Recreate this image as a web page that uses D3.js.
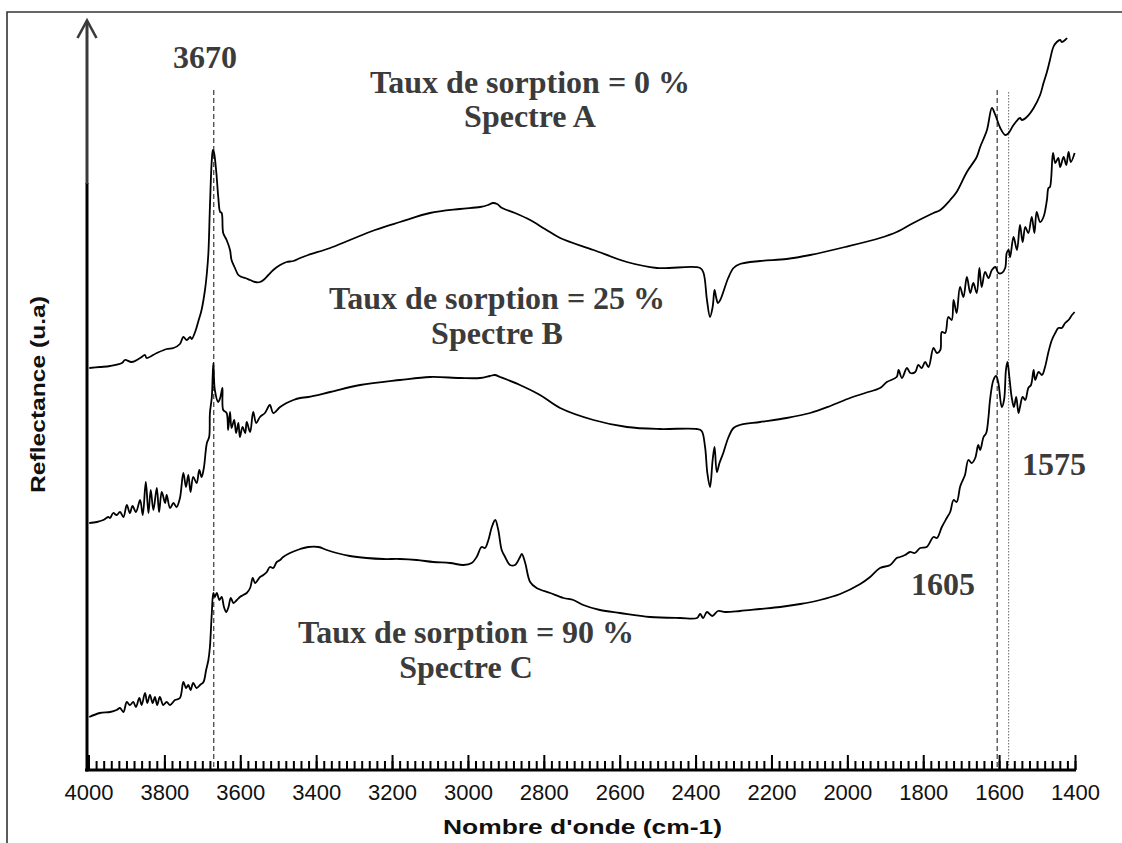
<!DOCTYPE html>
<html>
<head>
<meta charset="utf-8">
<script src="https://cdn.jsdelivr.net/npm/d3@7"></script>
<style>
  html, body { margin: 0; padding: 0; background: #fff; }
  svg { display: block; }
</style>
</head>
<body>
<svg id="chart" width="1122" height="843"></svg>
<script>
// Wavenumber (cm-1) and reflectance (arbitrary units) for the three spectra
const wnA = [3998,3970,3943,3912,3904,3886,3864,3851,3847,3820,3794,3776,3759,3750,3741,3732,3728,3719,3711,3702,3693,3688,3684,3680,3675,3672,3669,3663,3658,3653,3649,3645,3636,3627,3623,3614,3605,3596,3587,3574,3561,3548,3539,3526,3513,3495,3478,3460,3442,3421,3363,3311,3245,3179,3100,3021,2968,2947,2934,2923,2910,2876,2836,2797,2757,2669,2581,2502,2388,2379,2370,2362,2355,2350,2346,2341,2335,2327,2314,2300,2283,2230,2160,2098,2006,1914,1870,1826,1773,1755,1729,1712,1685,1659,1650,1632,1619,1610,1597,1584,1575,1562,1545,1540,1527,1509,1492,1483,1474,1466,1457,1448,1439,1435,1426,1421];
const valA = [40.2,40.3,40.4,40.7,41.0,40.8,41.2,41.5,41.2,41.7,42.1,42.2,42.6,43.3,43.0,43.3,43.1,43.8,44.8,46.0,48.0,49.7,51.7,56.3,61.0,62.0,61.7,59.7,57.3,55.8,55.7,53.7,53.0,52.0,51.0,50.2,49.5,49.3,49.2,49.0,48.8,48.8,49.0,49.5,50.0,50.5,50.8,50.9,51.2,51.5,52.2,53.0,54.0,54.8,55.7,56.1,56.3,56.5,56.7,56.6,56.2,55.7,55.0,54.1,53.2,52.0,50.8,50.2,50.2,49.7,47.0,45.3,46.3,48.0,47.3,46.7,47.0,47.8,49.2,50.2,50.6,50.9,51.1,51.5,52.3,53.2,53.8,54.7,55.7,56.0,57.0,57.8,59.8,61.3,62.3,64.0,66.2,65.5,64.2,63.5,63.7,64.5,65.2,65.0,65.3,66.2,67.5,68.7,69.8,71.0,72.3,72.8,73.0,72.8,73.0,73.2];

const wnB = [3998,3978,3961,3948,3943,3935,3926,3917,3908,3899,3891,3884,3875,3864,3857,3849,3842,3836,3829,3820,3814,3807,3798,3794,3785,3776,3768,3759,3750,3743,3737,3731,3724,3715,3708,3702,3696,3688,3682,3680,3675,3671,3667,3658,3653,3647,3645,3636,3632,3627,3623,3616,3611,3605,3601,3594,3587,3583,3574,3566,3558,3548,3535,3522,3513,3495,3478,3460,3442,3421,3363,3284,3179,3100,3021,2968,2942,2929,2915,2863,2810,2757,2669,2581,2494,2397,2384,2375,2369,2362,2355,2350,2344,2337,2327,2314,2300,2283,2230,2160,2098,2045,1993,1953,1914,1896,1870,1865,1856,1843,1834,1821,1813,1804,1795,1786,1773,1764,1755,1751,1742,1734,1725,1720,1712,1703,1694,1685,1676,1668,1659,1652,1646,1637,1628,1619,1610,1602,1593,1584,1580,1575,1571,1562,1553,1545,1538,1531,1523,1514,1507,1501,1492,1483,1474,1470,1466,1458,1452,1444,1439,1430,1423,1417,1411,1401];
const valB = [24.7,24.8,25.0,25.3,25.2,25.7,25.5,25.8,25.3,26.5,25.7,26.4,25.8,27.0,25.5,28.8,25.7,28.0,26.0,28.2,25.8,27.8,26.7,27.5,26.2,26.7,26.3,27.2,29.7,28.3,29.5,27.8,29.3,28.7,30.0,29.3,30.2,32.7,33.3,35.7,37.3,40.7,38.0,36.8,37.2,38.2,36.0,35.7,34.0,35.8,34.2,35.0,33.7,34.7,33.3,34.3,33.7,34.8,33.8,35.8,34.7,35.3,35.7,36.5,35.7,36.3,36.7,37.0,37.2,37.3,37.8,38.5,39.0,39.3,39.2,39.2,39.4,39.5,39.3,38.5,37.5,36.2,35.0,34.3,34.1,34.1,33.9,32.3,29.7,28.3,31.0,32.3,29.8,30.7,31.7,33.2,34.2,34.5,34.8,35.2,35.7,36.4,37.2,37.7,38.2,38.8,39.3,40.0,39.2,40.2,39.7,39.8,40.5,40.2,40.8,40.3,42.2,41.7,42.0,43.8,43.7,45.3,45.0,47.0,45.7,48.3,47.3,49.3,47.7,48.7,47.7,50.2,48.3,49.8,49.2,50.0,50.3,49.7,49.7,50.2,51.7,52.0,51.3,53.3,52.0,54.5,52.8,54.3,53.7,55.3,53.7,55.8,54.8,55.3,57.0,58.2,58.3,61.7,60.7,61.2,60.3,61.3,60.5,61.8,60.8,61.7];

const wnC = [3998,3970,3943,3926,3917,3908,3899,3891,3882,3875,3866,3860,3851,3845,3838,3831,3825,3819,3812,3803,3794,3785,3772,3759,3750,3743,3737,3731,3724,3715,3706,3697,3690,3684,3680,3675,3671,3667,3662,3655,3649,3643,3637,3631,3625,3618,3609,3601,3592,3583,3574,3567,3561,3548,3539,3530,3522,3513,3504,3495,3487,3469,3442,3421,3394,3372,3346,3311,3267,3223,3179,3135,3091,3047,3012,2990,2977,2964,2955,2946,2937,2928,2920,2911,2902,2889,2876,2864,2858,2849,2836,2819,2783,2748,2722,2696,2652,2599,2520,2441,2396,2388,2380,2370,2356,2341,2322,2283,2230,2177,2124,2072,2019,1966,1940,1914,1887,1870,1861,1848,1835,1822,1808,1791,1773,1764,1751,1738,1729,1720,1712,1703,1698,1690,1681,1672,1663,1655,1650,1641,1634,1628,1624,1615,1608,1602,1593,1587,1582,1578,1573,1567,1561,1555,1549,1545,1538,1531,1523,1516,1509,1505,1496,1487,1479,1470,1461,1452,1444,1435,1426,1417,1408,1401];
const valC = [5.3,5.7,5.8,6.0,6.2,5.8,6.8,6.5,6.8,6.3,7.2,6.5,7.7,6.7,7.5,6.7,7.3,6.5,7.3,6.5,6.8,6.5,7.0,7.2,8.8,8.2,8.5,8.0,8.7,8.2,8.5,8.8,10.0,11.0,12.3,15.7,17.7,17.3,17.7,17.0,17.3,16.3,15.8,16.3,17.2,16.7,17.0,17.3,17.5,17.7,18.2,19.2,18.7,19.3,19.5,19.8,20.3,20.2,20.8,21.0,21.3,21.7,22.1,22.3,22.3,22.0,21.7,21.4,21.2,21.1,21.1,21.0,20.8,20.7,20.5,20.7,21.3,22.3,22.2,23.0,24.3,25.0,24.0,22.0,21.3,20.5,20.5,21.2,21.6,20.7,18.8,18.2,17.7,17.2,17.0,16.5,16.0,15.7,15.3,15.2,15.2,15.6,15.2,15.8,15.4,15.9,15.8,15.9,16.1,16.3,16.6,17.0,17.6,18.6,19.3,20.2,20.5,21.2,21.3,21.5,21.8,21.7,22.2,22.3,23.3,23.2,24.3,25.2,25.8,27.0,26.8,28.3,28.8,29.5,31.0,30.7,31.2,32.5,32.0,33.3,33.7,35.3,37.0,39.0,39.4,38.7,36.3,37.0,40.0,40.8,39.3,37.3,36.3,37.3,35.7,36.3,37.3,37.0,38.2,38.5,40.0,39.0,39.8,39.5,40.3,41.8,43.0,43.7,44.2,44.2,44.7,45.0,45.5,45.8];

// Axis ticks
const majorTicks = [4000,3800,3600,3400,3200,3000,2800,2600,2400,2200,2000,1800,1600,1400];
const minorTicks = d3.range(4000, 1399, -20);

// Marked bands
const bands = [
  { wn: 3670, label: "3670", style: "dash" },
  { wn: 1605, label: "1605", style: "dash" },
  { wn: 1575, label: "1575", style: "dot" }
];

const spectrumLabels = [
  { title: "Taux de sorption = 0 %",  name: "Spectre A" },
  { title: "Taux de sorption = 25 %", name: "Spectre B" },
  { title: "Taux de sorption = 90 %", name: "Spectre C" }
];

const svg = d3.select("#chart");
const x = d3.scaleLinear().domain([4000, 1400]).range([88.5, 1075]);
const y = d3.scaleLinear().domain([0, 75]).range([770, 20]);

// outer frame (top and left edges visible)
svg.append("path")
  .attr("d", "M7,843 L7,12 L1122,12")
  .attr("fill", "none").attr("stroke", "#333").attr("stroke-width", 1.6);

// vertical reference lines
const refTop = { "3670": 68, "1605": 68, "1575": 67.8 };
bands.forEach(b => {
  svg.append("line")
    .attr("x1", x(b.wn)).attr("x2", x(b.wn))
    .attr("y1", y(refTop[b.label])).attr("y2", y(0.3))
    .attr("stroke", b.style === "dash" ? "#555" : "#777")
    .attr("stroke-width", b.style === "dash" ? 1.4 : 1.1)
    .attr("stroke-dasharray", b.style === "dash" ? "5,3" : "1.5,1.5");
});

// spectra
const line = d3.line()
  .x(d => x(d[0])).y(d => y(d[1]))
  .curve(d3.curveCatmullRom.alpha(0.5));
[[wnA, valA], [wnB, valB], [wnC, valC]].forEach(([w, v]) => {
  svg.append("path")
    .datum(w.map((d, i) => [d, v[i]]))
    .attr("d", line)
    .attr("fill", "none")
    .attr("stroke", "#000")
    .attr("stroke-width", 1.8)
    .attr("stroke-linejoin", "round");
});

// x axis: minor ticks, then major ticks with labels
const gMinor = svg.append("g").attr("transform", "translate(0,770)")
  .call(d3.axisBottom(x).tickValues(minorTicks).tickSize(-9).tickFormat(""));
const gMajor = svg.append("g").attr("transform", "translate(0,770)")
  .call(d3.axisBottom(x).tickValues(majorTicks).tickSize(-15).tickPadding(14).tickFormat(d3.format("d")));
[gMinor, gMajor].forEach(g => {
  g.select(".domain").remove();
  g.selectAll(".tick line").attr("stroke", "#000").attr("stroke-width", 2);
});
gMajor.selectAll(".tick text")
  .attr("font-family", "'Liberation Sans', Arial, sans-serif")
  .attr("font-size", 22).attr("fill", "#111");
svg.append("line")
  .attr("x1", 85).attr("x2", x(1400) + 1)
  .attr("y1", 770).attr("y2", 770)
  .attr("stroke", "#000").attr("stroke-width", 3.2);

// y axis with arrow
svg.append("line").attr("x1", 87).attr("x2", 87).attr("y1", 771.5).attr("y2", 183)
  .attr("stroke", "#000").attr("stroke-width", 3);
svg.append("line").attr("x1", 87).attr("x2", 87).attr("y1", 184).attr("y2", 21)
  .attr("stroke", "#3a3a3a").attr("stroke-width", 3);
svg.append("path").attr("d", "M77.5,38 L87,20.5 L96.5,38")
  .attr("fill", "none").attr("stroke", "#3a3a3a").attr("stroke-width", 2.6)
  .attr("stroke-linejoin", "miter");

// axis titles (wide bold sans)
svg.append("text")
  .attr("x", 443).attr("y", 834)
  .attr("font-family", "'Liberation Sans', Arial, sans-serif")
  .attr("font-weight", "bold").attr("font-size", 21).attr("fill", "#111")
  .attr("textLength", 279).attr("lengthAdjust", "spacingAndGlyphs")
  .text("Nombre d'onde (cm-1)");
svg.append("text")
  .attr("transform", "translate(45,493) rotate(-90)")
  .attr("font-family", "'Liberation Sans', Arial, sans-serif")
  .attr("font-weight", "bold").attr("font-size", 21).attr("fill", "#111")
  .attr("textLength", 197).attr("lengthAdjust", "spacingAndGlyphs")
  .text("Reflectance (u.a)");

// annotations
const serif = "'Liberation Serif', 'Times New Roman', serif";
const ann = svg.append("g")
  .attr("font-family", serif).attr("font-weight", "bold")
  .attr("font-size", 32).attr("fill", "#3b3b3b").attr("text-anchor", "middle");

const bandLabelPos = { "3670": [205, 68], "1605": [943, 595], "1575": [1054, 475] };
bands.forEach(b => {
  ann.append("text").attr("x", bandLabelPos[b.label][0]).attr("y", bandLabelPos[b.label][1]).text(b.label);
});

const spectrumLabelPos = [[530, 93, 127], [497, 309, 344], [466, 643, 678]];
spectrumLabels.forEach((s, i) => {
  const p = spectrumLabelPos[i];
  ann.append("text").attr("x", p[0]).attr("y", p[1]).text(s.title);
  ann.append("text").attr("x", p[0]).attr("y", p[2]).text(s.name);
});
</script>
</body>
</html>
